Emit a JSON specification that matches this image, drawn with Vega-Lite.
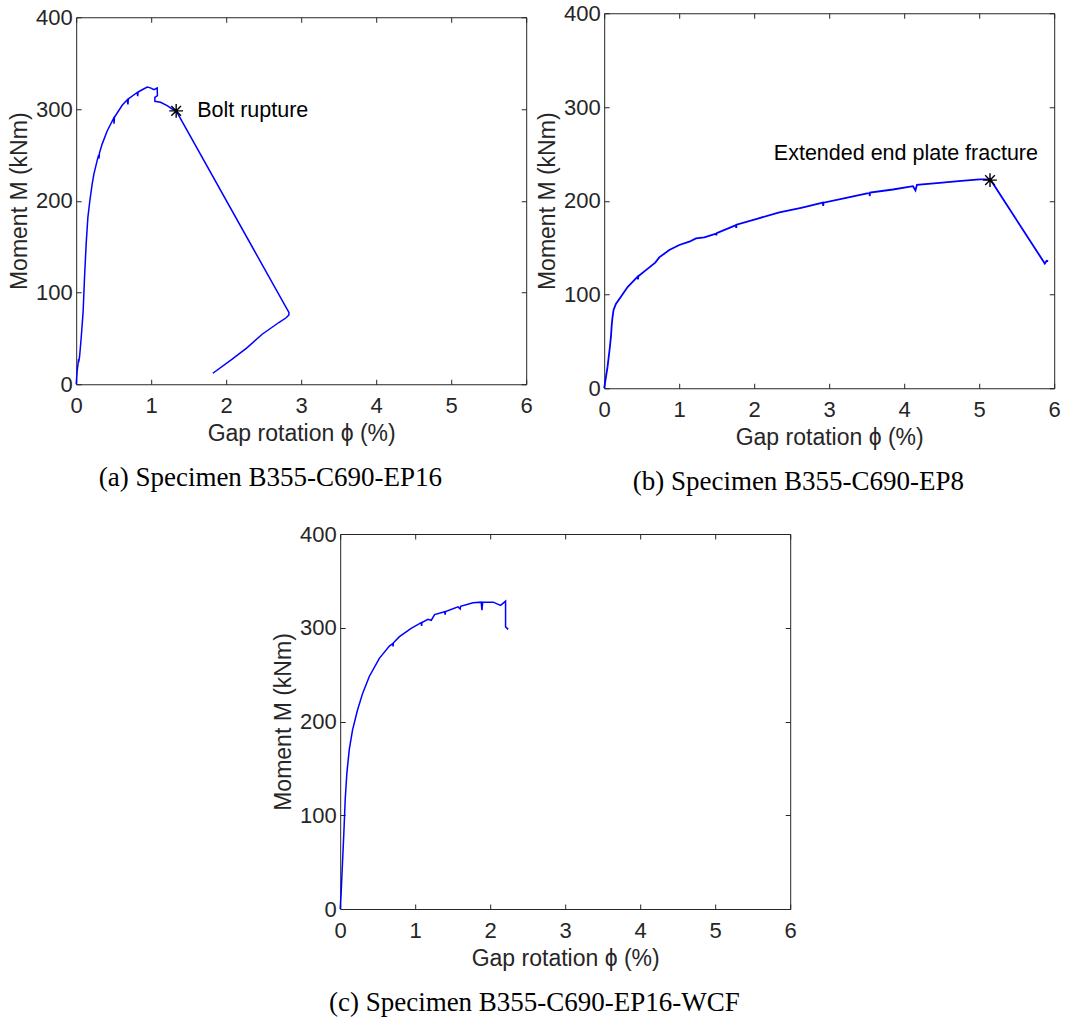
{
  "$schema": "https://vega.github.io/schema/vega-lite/v6.json",
  "background": "white",
  "padding": {"left": 7, "top": 1, "right": 5, "bottom": 5},
  "config": {
    "font": "Liberation Sans",
    "view": {"stroke": "#262626", "strokeWidth": 1},
    "axis": {
      "labelFont": "Liberation Sans", "labelFontSize": 22, "labelColor": "#262626",
      "titleFont": "Liberation Sans", "titleFontSize": 23, "titleFontWeight": "normal", "titleColor": "#262626",
      "domain": false, "grid": false, "tickColor": "#262626", "tickWidth": 1, "tickSize": -5,
      "labelFlush": false, "labelOverlap": false
    },
    "axisX": {"labelPadding": 16, "titlePadding": 6},
    "axisY": {"labelPadding": 9, "titlePadding": 4},
    "title": {"font": "Liberation Serif", "fontSize": 27, "fontWeight": "normal", "color": "black", "frame": "bounds"}
  },
  "datasets": {
    "a": [
      {"phi": 0, "M": 0}, {"phi": 0.013, "M": 14.5}, {"phi": 0.03, "M": 26}, {"phi": 0.036, "M": 25.5}, {"phi": 0.045, "M": 30},
      {"phi": 0.067, "M": 51}, {"phi": 0.093, "M": 80}, {"phi": 0.111, "M": 116}, {"phi": 0.133, "M": 153}, {"phi": 0.156, "M": 182},
      {"phi": 0.182, "M": 200}, {"phi": 0.213, "M": 218}, {"phi": 0.236, "M": 229}, {"phi": 0.28, "M": 244}, {"phi": 0.3, "M": 250},
      {"phi": 0.305, "M": 246}, {"phi": 0.31, "M": 252}, {"phi": 0.347, "M": 262}, {"phi": 0.413, "M": 276}, {"phi": 0.5, "M": 290},
      {"phi": 0.505, "M": 284}, {"phi": 0.51, "M": 291}, {"phi": 0.613, "M": 304}, {"phi": 0.68, "M": 310}, {"phi": 0.69, "M": 305},
      {"phi": 0.695, "M": 311}, {"phi": 0.813, "M": 318}, {"phi": 0.82, "M": 314}, {"phi": 0.825, "M": 318.5}, {"phi": 0.88, "M": 321},
      {"phi": 0.947, "M": 324}, {"phi": 0.99, "M": 323}, {"phi": 1.036, "M": 321}, {"phi": 1.08, "M": 322.9}, {"phi": 1.083, "M": 314.5},
      {"phi": 1.049, "M": 312.7}, {"phi": 1.049, "M": 308.4}, {"phi": 1.124, "M": 307.3}, {"phi": 1.213, "M": 303.6}, {"phi": 1.28, "M": 300},
      {"phi": 1.333, "M": 298}, {"phi": 2.836, "M": 78.2}, {"phi": 2.836, "M": 75.6}, {"phi": 2.804, "M": 72.7}, {"phi": 2.702, "M": 67.3},
      {"phi": 2.48, "M": 54.5}, {"phi": 2.28, "M": 40}, {"phi": 2.08, "M": 27.3}, {"phi": 1.822, "M": 12}
    ],
    "b": [
      {"phi": 0, "M": 0}, {"phi": 0.045, "M": 23}, {"phi": 0.076, "M": 44}, {"phi": 0.09, "M": 55}, {"phi": 0.102, "M": 69},
      {"phi": 0.11, "M": 75}, {"phi": 0.125, "M": 83.5}, {"phi": 0.156, "M": 90}, {"phi": 0.223, "M": 97.7}, {"phi": 0.312, "M": 108},
      {"phi": 0.445, "M": 119}, {"phi": 0.45, "M": 116}, {"phi": 0.455, "M": 119.5}, {"phi": 0.556, "M": 126}, {"phi": 0.681, "M": 134},
      {"phi": 0.734, "M": 139.6}, {"phi": 0.868, "M": 147.4}, {"phi": 1.001, "M": 152.8}, {"phi": 1.135, "M": 156.3}, {"phi": 1.224, "M": 159.9},
      {"phi": 1.335, "M": 161}, {"phi": 1.491, "M": 165}, {"phi": 1.495, "M": 163}, {"phi": 1.5, "M": 165.5}, {"phi": 1.758, "M": 174},
      {"phi": 1.76, "M": 171}, {"phi": 1.765, "M": 174.5}, {"phi": 2.025, "M": 180.5}, {"phi": 2.336, "M": 187.6}, {"phi": 2.626, "M": 192.5},
      {"phi": 2.915, "M": 197.9}, {"phi": 2.92, "M": 194.5}, {"phi": 2.925, "M": 198}, {"phi": 3.227, "M": 203}, {"phi": 3.538, "M": 208.5},
      {"phi": 3.54, "M": 205}, {"phi": 3.545, "M": 208.7}, {"phi": 3.85, "M": 212}, {"phi": 4.117, "M": 215.6}, {"phi": 4.15, "M": 211},
      {"phi": 4.17, "M": 217}, {"phi": 4.473, "M": 219}, {"phi": 4.762, "M": 221.3}, {"phi": 5.007, "M": 222.7}, {"phi": 5.149, "M": 222.7},
      {"phi": 5.875, "M": 133}, {"phi": 5.9, "M": 136}, {"phi": 5.92, "M": 135.7}
    ],
    "c": [
      {"phi": 0, "M": 0}, {"phi": 0.013, "M": 17.7}, {"phi": 0.031, "M": 49.6}, {"phi": 0.049, "M": 81.5}, {"phi": 0.067, "M": 117},
      {"phi": 0.089, "M": 145}, {"phi": 0.121, "M": 170}, {"phi": 0.165, "M": 191}, {"phi": 0.232, "M": 212.5}, {"phi": 0.299, "M": 230},
      {"phi": 0.388, "M": 248}, {"phi": 0.522, "M": 267.4}, {"phi": 0.656, "M": 280.5}, {"phi": 0.7, "M": 283}, {"phi": 0.705, "M": 280},
      {"phi": 0.71, "M": 284}, {"phi": 0.79, "M": 290.5}, {"phi": 0.946, "M": 299.3}, {"phi": 1.08, "M": 305.4}, {"phi": 1.085, "M": 302},
      {"phi": 1.09, "M": 305.6}, {"phi": 1.17, "M": 309}, {"phi": 1.214, "M": 308}, {"phi": 1.259, "M": 314}, {"phi": 1.393, "M": 317},
      {"phi": 1.4, "M": 314}, {"phi": 1.405, "M": 317.3}, {"phi": 1.571, "M": 322.3}, {"phi": 1.6, "M": 320}, {"phi": 1.605, "M": 322.8},
      {"phi": 1.772, "M": 326.6}, {"phi": 1.88, "M": 327.3}, {"phi": 1.89, "M": 318.7}, {"phi": 1.9, "M": 327.3}, {"phi": 2.04, "M": 327.3},
      {"phi": 2.138, "M": 323.8}, {"phi": 2.205, "M": 328.4}, {"phi": 2.205, "M": 301}, {"phi": 2.24, "M": 298.3}
    ],
    "aStar": [{"phi": 1.333, "M": 298, "label": "Bolt rupture"}],
    "bStar": [{"phi": 5.144, "M": 222, "label": "Extended end plate fracture"}]
  },
  "vconcat": [
    {
      "hconcat": [
        {
          "width": 450, "height": 367,
          "title": {"text": "(a)  Specimen B355-C690-EP16", "orient": "bottom", "anchor": "middle", "frame": "bounds", "offset": 20},
          "layer": [
            {
              "data": {"name": "a"},
              "mark": {"type": "line", "color": "#0000ff", "strokeWidth": 1.5},
              "encoding": {
                "x": {"field": "phi", "type": "quantitative", "scale": {"domain": [0, 6], "nice": false}, "axis": {"orient": "bottom", "values": [0, 1, 2, 3, 4, 5, 6], "title": "Gap rotation ϕ (%)"}},
                "y": {"field": "M", "type": "quantitative", "scale": {"domain": [0, 400], "nice": false}, "axis": {"orient": "left", "values": [0, 100, 200, 300, 400], "title": "Moment M (kNm)"}},
                "order": {"value": null}
              }
            },
            {
              "data": {"name": "aStar"},
              "mark": {"type": "point", "shape": "M-1,0L1,0M0,-1L0,1M-0.7,-0.7L0.7,0.7M-0.7,0.7L0.7,-0.7", "filled": false, "stroke": "black", "strokeWidth": 1.4, "size": 190, "opacity": 1},
              "encoding": {
                "x": {"field": "phi", "type": "quantitative", "axis": {"orient": "top", "values": [0, 1, 2, 3, 4, 5, 6], "labels": false, "title": null}},
                "y": {"field": "M", "type": "quantitative", "axis": {"orient": "right", "values": [0, 100, 200, 300, 400], "labels": false, "title": null}}
              }
            },
            {
              "data": {"name": "aStar"},
              "mark": {"type": "text", "align": "left", "baseline": "middle", "dx": 21, "font": "Liberation Sans", "fontSize": 21.5, "color": "black"},
              "encoding": {
                "x": {"field": "phi", "type": "quantitative", "axis": null},
                "y": {"field": "M", "type": "quantitative", "axis": null},
                "text": {"field": "label"}
              }
            }
          ],
          "resolve": {"axis": {"x": "independent", "y": "independent"}}
        },
        {
          "width": 450, "height": 375,
          "title": {"text": "(b)  Specimen B355-C690-EP8", "orient": "bottom", "anchor": "middle", "frame": "bounds", "offset": 20},
          "layer": [
            {
              "data": {"name": "b"},
              "mark": {"type": "line", "color": "#0000ff", "strokeWidth": 1.8},
              "encoding": {
                "x": {"field": "phi", "type": "quantitative", "scale": {"domain": [0, 6], "nice": false}, "axis": {"orient": "bottom", "values": [0, 1, 2, 3, 4, 5, 6], "title": "Gap rotation ϕ (%)"}},
                "y": {"field": "M", "type": "quantitative", "scale": {"domain": [0, 400], "nice": false}, "axis": {"orient": "left", "values": [0, 100, 200, 300, 400], "title": "Moment M (kNm)"}},
                "order": {"value": null}
              }
            },
            {
              "data": {"name": "bStar"},
              "mark": {"type": "point", "shape": "M-1,0L1,0M0,-1L0,1M-0.7,-0.7L0.7,0.7M-0.7,0.7L0.7,-0.7", "filled": false, "stroke": "black", "strokeWidth": 1.4, "size": 190, "opacity": 1},
              "encoding": {
                "x": {"field": "phi", "type": "quantitative", "axis": {"orient": "top", "values": [0, 1, 2, 3, 4, 5, 6], "labels": false, "title": null}},
                "y": {"field": "M", "type": "quantitative", "axis": {"orient": "right", "values": [0, 100, 200, 300, 400], "labels": false, "title": null}}
              }
            },
            {
              "data": {"name": "bStar"},
              "mark": {"type": "text", "align": "right", "baseline": "middle", "dx": 48, "dy": -26, "font": "Liberation Sans", "fontSize": 21.5, "color": "black"},
              "encoding": {
                "x": {"field": "phi", "type": "quantitative", "axis": null},
                "y": {"field": "M", "type": "quantitative", "axis": null},
                "text": {"field": "label"}
              }
            }
          ],
          "resolve": {"axis": {"x": "independent", "y": "independent"}}
        }
      ],
      "spacing": 2,
      "center": true
    },
    {
      "width": 450, "height": 375,
      "title": {"text": "(c)  Specimen B355-C690-EP16-WCF", "orient": "bottom", "anchor": "middle", "frame": "bounds", "offset": 20},
      "data": {"name": "c"},
      "layer": [
        {
          "mark": {"type": "line", "color": "#0000ff", "strokeWidth": 1.5},
          "encoding": {
            "x": {"field": "phi", "type": "quantitative", "scale": {"domain": [0, 6], "nice": false}, "axis": {"orient": "bottom", "values": [0, 1, 2, 3, 4, 5, 6], "title": "Gap rotation ϕ (%)"}},
            "y": {"field": "M", "type": "quantitative", "scale": {"domain": [0, 400], "nice": false}, "axis": {"orient": "left", "values": [0, 100, 200, 300, 400], "title": "Moment M (kNm)"}},
            "order": {"value": null}
          }
        },
        {
          "mark": {"type": "line", "strokeOpacity": 0},
          "encoding": {
            "x": {"field": "phi", "type": "quantitative", "axis": {"orient": "top", "values": [0, 1, 2, 3, 4, 5, 6], "labels": false, "title": null}},
            "y": {"field": "M", "type": "quantitative", "axis": {"orient": "right", "values": [0, 100, 200, 300, 400], "labels": false, "title": null}},
            "order": {"value": null}
          }
        }
      ],
      "resolve": {"axis": {"x": "independent", "y": "independent"}}
    }
  ],
  "spacing": 26,
  "center": true
}
